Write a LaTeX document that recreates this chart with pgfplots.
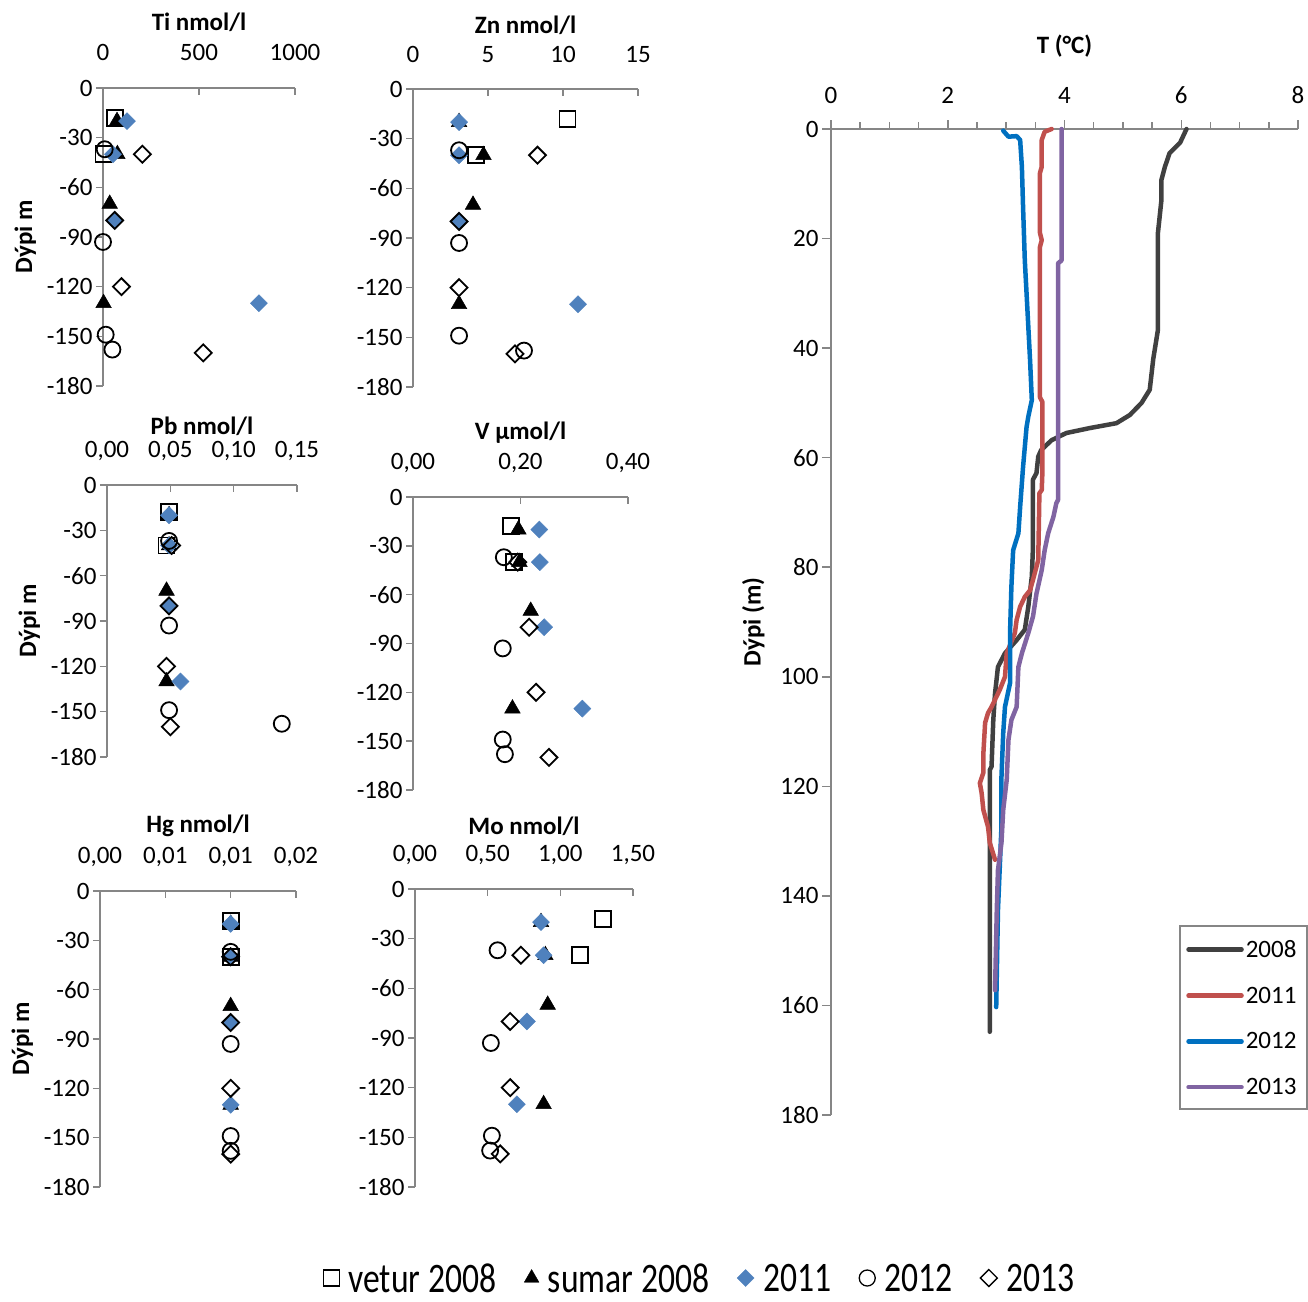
\documentclass[border=0pt]{standalone}
\usepackage{fontspec}
\setmainfont{Carlito}
\newfontfamily\legfont[FakeStretch=0.8]{Carlito}
\usepackage{pgfplots}
\pgfplotsset{compat=1.18}

\definecolor{axisgray}{HTML}{868686}
\definecolor{blue11}{HTML}{4F81BD}
\definecolor{c08}{HTML}{404040}
\definecolor{c11}{HTML}{C0504D}
\definecolor{c12}{HTML}{0070C0}
\definecolor{c13}{HTML}{8064A2}

\pgfplotsset{
  /pgf/number format/assume math mode=true,
  panel/.style={
    scale only axis,
    anchor=south west,
    axis x line*=top,
    axis y line*=left,
    axis line style={draw=axisgray, line width=1.5pt},
    every tick/.style={draw=axisgray, line width=1.5pt},
    major tick length=7pt,
    tick align=outside,
    x tick style={yshift=-7pt},
    scaled x ticks=false,
    xmin=0,
    ymin=-180, ymax=0,
    ytick={-180,-150,...,0},
    yticklabels={-180,-150,-120,-90,-60,-30,0},
    tick label style={font=\fontsize{25}{28}\selectfont},
    xticklabel style={yshift=14pt},
    xlabel style={font=\fontsize{25}{28}\selectfont\bfseries, yshift=3pt},
    ylabel style={font=\fontsize{25}{28}\selectfont\bfseries, yshift=4pt},
    clip=false,
  },
  vet/.style={only marks, mark=square, mark size=8pt,
    mark options={draw=black, line width=1.8pt, fill=none}},
  sum/.style={only marks, mark=triangle*, mark size=9pt,
    mark options={draw=black, fill=black, line width=0.5pt}},
  y11/.style={only marks, mark=square*, mark size=6pt,
    mark options={rotate=45, draw=blue11, fill=blue11, line width=0.5pt}},
  y12/.style={only marks, mark=o, mark size=8pt,
    mark options={draw=black, line width=1.8pt}},
  y13/.style={only marks, mark=square, mark size=6pt,
    mark options={rotate=45, draw=black, line width=1.8pt, fill=none}},
  tline/.style={line width=4.5pt, line join=round, line cap=round, mark=none},
}

\begin{document}
\begin{tikzpicture}
\useasboundingbox (0pt,0pt) rectangle (1308pt,-1301pt);

% ---------- Ti ----------
\begin{axis}[panel, at={(103pt,-386pt)}, width=192pt, height=298pt,
  xmax=1000, xtick={0,500,1000}, xticklabels={0,500,1000},
  xlabel={Ti nmol/l}, ylabel={Dýpi m},
  xticklabel style={yshift=3pt}, xlabel style={yshift=3pt}]
\addplot[vet] coordinates {(61,-18) (3,-40)};
\addplot[sum] coordinates {(73,-20) (75,-40) (35,-70) (3,-130)};
\addplot[y11] coordinates {(125,-20) (52,-40) (57,-80) (812,-130)};
\addplot[y12] coordinates {(9,-37) (0,-93) (14,-149) (49,-158)};
\addplot[y13] coordinates {(205,-40) (61,-80) (96,-120) (522,-160)};
\end{axis}

% ---------- Zn ----------
\begin{axis}[panel, at={(413pt,-387pt)}, width=225pt, height=298pt,
  xmax=15, xtick={0,5,10,15}, xticklabels={0,5,10,15},
  xlabel={Zn nmol/l},
  xticklabel style={yshift=2pt}, xlabel style={yshift=2pt}]
\addplot[vet] coordinates {(10.3,-18) (4.2,-40)};
\addplot[sum] coordinates {(3.07,-20) (4.7,-40) (4.0,-70) (3.07,-130)};
\addplot[y11] coordinates {(3.07,-20) (3.07,-40) (3.07,-80) (11.0,-130)};
\addplot[y12] coordinates {(3.07,-37) (3.07,-93) (3.07,-149) (7.4,-158)};
\addplot[y13] coordinates {(8.3,-40) (3.07,-80) (3.07,-120) (6.8,-160)};
\end{axis}

% ---------- Pb ----------
\begin{axis}[panel, at={(107pt,-757pt)}, width=190pt, height=272pt,
  xmax=0.15, xtick={0,0.05,0.10,0.15},
  xticklabels={{0,00},{0,05},{0,10},{0,15}},
  xlabel={Pb nmol/l}, ylabel={Dýpi m}, xlabel style={yshift=-4pt}]
\addplot[vet] coordinates {(0.049,-18) (0.047,-40)};
\addplot[sum] coordinates {(0.049,-20) (0.049,-40) (0.047,-70) (0.047,-130)};
\addplot[y11] coordinates {(0.049,-20) (0.049,-40) (0.049,-80) (0.058,-130)};
\addplot[y12] coordinates {(0.049,-37) (0.049,-93) (0.049,-149) (0.138,-158)};
\addplot[y13] coordinates {(0.051,-40) (0.049,-80) (0.047,-120) (0.050,-160)};
\end{axis}

% ---------- V ----------
\begin{axis}[panel, at={(413pt,-790pt)}, width=215pt, height=293pt,
  xmax=0.4, xtick={0,0.2,0.4},
  xticklabels={{0,00},{0,20},{0,40}},
  xlabel={V µmol/l}]
\addplot[vet] coordinates {(0.182,-18) (0.188,-40)};
\addplot[sum] coordinates {(0.196,-20) (0.198,-40) (0.219,-70) (0.185,-130)};
\addplot[y11] coordinates {(0.235,-20) (0.236,-40) (0.244,-80) (0.315,-130)};
\addplot[y12] coordinates {(0.169,-37) (0.167,-93) (0.167,-149) (0.171,-158)};
\addplot[y13] coordinates {(0.195,-40) (0.216,-80) (0.229,-120) (0.253,-160)};
\end{axis}

% ---------- Hg ----------
\begin{axis}[panel, at={(100pt,-1187pt)}, width=196pt, height=296pt,
  xmax=0.015, xtick={0,0.005,0.010,0.015},
  xticklabels={{0,00},{0,01},{0,01},{0,02}},
  xlabel={Hg nmol/l}, ylabel={Dýpi m}]
\addplot[vet] coordinates {(0.01,-18) (0.01,-40)};
\addplot[sum] coordinates {(0.01,-20) (0.01,-40) (0.01,-70) (0.01,-130)};
\addplot[y11] coordinates {(0.01,-20) (0.01,-40) (0.01,-80) (0.01,-130)};
\addplot[y12] coordinates {(0.01,-37) (0.01,-93) (0.01,-149) (0.01,-158)};
\addplot[y13] coordinates {(0.01,-40) (0.01,-80) (0.01,-120) (0.01,-160)};
\end{axis}

% ---------- Mo ----------
\begin{axis}[panel, at={(415pt,-1187pt)}, width=218pt, height=298pt,
  xmax=1.5, xtick={0,0.5,1,1.5},
  xticklabels={{0,00},{0,50},{1,00},{1,50}},
  xlabel={Mo nmol/l}]
\addplot[vet] coordinates {(1.294,-18) (1.138,-40)};
\addplot[sum] coordinates {(0.867,-20) (0.897,-40) (0.913,-70) (0.885,-130)};
\addplot[y11] coordinates {(0.867,-20) (0.885,-40) (0.770,-80) (0.701,-130)};
\addplot[y12] coordinates {(0.568,-37) (0.522,-93) (0.529,-149) (0.517,-158)};
\addplot[y13] coordinates {(0.729,-40) (0.655,-80) (0.655,-120) (0.586,-160)};
\end{axis}

% ---------- temperature profiles ----------
\begin{axis}[scale only axis, anchor=south west, at={(831pt,-1115pt)},
  width=467pt, height=986pt,
  xmin=0, xmax=8, ymin=0, ymax=180, y dir=reverse,
  axis x line*=top, axis y line*=left,
  axis line style={draw=axisgray, line width=1.5pt},
  every tick/.style={draw=axisgray, line width=1.5pt},
  tick align=outside, major tick length=9pt, minor tick length=7pt,
  xtick={0,2,4,6,8}, minor xtick={0.5,1,1.5,2.5,3,3.5,4.5,5,5.5,6.5,7,7.5},
  ytick={0,20,...,180},
  tick label style={font=\fontsize{25}{28}\selectfont},
  xticklabel style={yshift=13pt},
  xlabel={T (°C)}, ylabel={Dýpi (m)},
  xlabel style={font=\fontsize{25}{28}\selectfont\bfseries, yshift=22pt},
  ylabel style={font=\fontsize{25}{28}\selectfont\bfseries, yshift=9pt},
  clip=false,
  legend cell align=left,
  legend style={at={(axis cs:5.98,146.6)}, anchor=north west,
    draw=none, fill=none,
    nodes={font=\fontsize{25}{28}\selectfont},
    row sep=24pt, inner xsep=6pt, inner ysep=6pt},
  legend image code/.code={\draw[#1, line cap=round] (0pt,0pt) -- (53pt,0pt);},
]
\addplot[tline, c08] coordinates {
 (6.09,0) (5.98,2.5) (5.8,4.4) (5.72,6.9) (5.66,9.3) (5.66,13) (5.6,19)
 (5.6,36.7) (5.52,42) (5.46,47.6) (5.32,50) (5.12,52.2) (4.89,53.7)
 (4.43,54.6) (4.03,55.5) (3.78,56.8) (3.6,58.6) (3.55,59.8) (3.52,62.8)
 (3.46,64) (3.46,76.3) (3.44,81.7) (3.38,87.2) (3.32,91.4) (3.18,93.3)
 (2.98,95.7) (2.86,98.2) (2.81,103) (2.78,107.9) (2.75,116.4) (2.72,117)
 (2.72,134) (2.72,164.8)};
\addlegendentry{2008}
\addplot[tline, c11] coordinates {
 (3.78,0) (3.66,0.5) (3.61,2) (3.61,6.9) (3.58,8) (3.58,19) (3.61,20.3)
 (3.58,21.5) (3.58,49) (3.62,49.8) (3.62,63) (3.61,65.9) (3.57,66.5)
 (3.55,78.7) (3.46,82.3) (3.41,84.2) (3.32,85.4) (3.24,87.2) (3.18,89.6)
 (3.15,92) (3.01,95.7) (2.98,100) (2.89,102.4) (2.75,105.5) (2.69,106.6)
 (2.64,108.4) (2.61,114) (2.61,117.5) (2.55,119.4) (2.58,121.2)
 (2.61,124.3) (2.69,127.4) (2.72,130.3) (2.81,133.4)};
\addlegendentry{2011}
\addplot[tline, c12] coordinates {
 (2.95,0.3) (3.04,1.4) (3.18,1.3) (3.24,2) (3.27,6.9) (3.29,14.2)
 (3.32,24) (3.35,30) (3.41,42.2) (3.44,49.5) (3.38,52.5) (3.35,54.4)
 (3.29,61.7) (3.24,69) (3.21,73.8) (3.12,76.9) (3.09,83.6) (3.07,90.9)
 (3.07,101) (2.98,105.5) (2.95,110.3) (2.92,118.3) (2.92,127.4)
 (2.86,142.6) (2.83,160.3)};
\addlegendentry{2012}
\addplot[tline, c13] coordinates {
 (3.95,0) (3.95,24) (3.89,24.5) (3.89,67.7) (3.86,68.3) (3.81,70.8)
 (3.72,73.8) (3.66,76.9) (3.61,80.5) (3.52,84.8) (3.46,89) (3.38,92)
 (3.27,95.7) (3.21,98.2) (3.18,105.5) (3.09,107.9) (3.04,111.5)
 (3.01,118.8) (2.95,124.3) (2.92,130.3) (2.86,135.3) (2.84,142.6)
 (2.81,157.2)};
\addlegendentry{2013}
\end{axis}

% frame around the temperature legend
\draw[axisgray, line width=1.5pt] (1180pt,-926pt) rectangle (1307pt,-1109pt);

% ---------- shared legend for the sample series ----------
\begin{axis}[hide axis, scale only axis, width=20pt, height=20pt,
  at={(699pt,-1278pt)}, anchor=center,
  xmin=0, xmax=1, ymin=0, ymax=1,
  legend columns=5,
  legend style={at={(0.5,0.5)}, anchor=center, draw=none, fill=none,
    inner sep=0pt,
    nodes={inner sep=0pt, text depth=0pt, font=\legfont\fontsize{42}{44}\selectfont},
    /tikz/every even column/.append style={column sep=28pt},
    /tikz/every odd column/.append style={column sep=9pt}},
  legend image code/.code={\draw[#1] plot coordinates {(0pt,0pt)};},
]
\addlegendimage{only marks, mark=square, mark size=8pt, mark options={draw=black, line width=1.3pt}}
\addlegendentry{vetur 2008}
\addlegendimage{only marks, mark=triangle*, mark size=8.5pt, mark options={draw=black, fill=black}}
\addlegendentry{sumar 2008}
\addlegendimage{only marks, mark=square*, mark size=6pt, mark options={rotate=45, draw=blue11, fill=blue11}}
\addlegendentry{2011}
\addlegendimage{only marks, mark=o, mark size=8pt, mark options={draw=black, line width=1.3pt}}
\addlegendentry{2012}
\addlegendimage{only marks, mark=square, mark size=6pt, mark options={rotate=45, draw=black, line width=1.3pt}}
\addlegendentry{2013}
\end{axis}
\end{tikzpicture}
\end{document}
